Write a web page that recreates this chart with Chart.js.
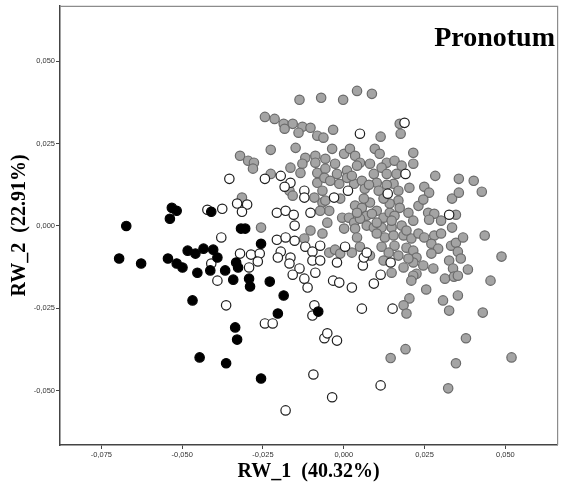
<!DOCTYPE html>
<html>
<head>
<meta charset="utf-8">
<script src="https://cdn.jsdelivr.net/npm/chart.js@4.4.1/dist/chart.umd.min.js"></script>
<style>
  html, body { margin: 0; padding: 0; background: #fff; }
  canvas { display: block; }
</style>
</head>
<body>
<canvas id="c" width="563" height="495"></canvas>
<script>
// RW_1 x RW_2 scatter, pronotum shape

const TITLE = 'Pronotum';
const X_TITLE = 'RW_1  (40.32%)';
const Y_TITLE = 'RW_2  (22.91%)';
const X_RANGE = [-0.0878, 0.066];
const Y_RANGE = [-0.0665, 0.0668];
const TICK_STEP = 0.025;

// black group
const blackPts = [
  [-0.0673, 0.0000], [-0.0532, 0.0055], [-0.0517, 0.0046], [-0.0538, 0.0022], [-0.0410, 0.0043],
  [-0.0318, -0.0008], [-0.0305, -0.0008], [-0.0256, -0.0054], [-0.0695, -0.0099], [-0.0627, -0.0114],
  [-0.0544, -0.0099], [-0.0517, -0.0114], [-0.0499, -0.0126], [-0.0483, -0.0075], [-0.0459, -0.0084],
  [-0.0434, -0.0069], [-0.0404, -0.0072], [-0.0391, -0.0096], [-0.0453, -0.0142], [-0.0413, -0.0135],
  [-0.0367, -0.0135], [-0.0333, -0.0111], [-0.0327, -0.0126], [-0.0342, -0.0163], [-0.0293, -0.0160],
  [-0.0290, -0.0184], [-0.0229, -0.0169], [-0.0468, -0.0226], [-0.0336, -0.0308], [-0.0330, -0.0345],
  [-0.0446, -0.0399], [-0.0364, -0.0417], [-0.0256, -0.0463], [-0.0186, -0.0211], [-0.0204, -0.0266],
  [-0.0079, -0.0260],
];

// white group
const whitePts = [
  [-0.0354, 0.0143], [-0.0244, 0.0143], [-0.0422, 0.0049], [-0.0376, 0.0052], [-0.0330, 0.0068],
  [-0.0299, 0.0065], [-0.0315, 0.0043], [-0.0379, -0.0035], [-0.0207, 0.0040], [-0.0207, -0.0042],
  [-0.0321, -0.0084], [-0.0287, -0.0087], [-0.0260, -0.0084], [-0.0266, -0.0108], [-0.0293, -0.0126],
  [-0.0195, 0.0152], [-0.0165, 0.0131], [-0.0183, 0.0119], [-0.0122, 0.0107], [-0.0122, 0.0086],
  [-0.0103, 0.0040], [-0.0180, 0.0046], [-0.0155, 0.0034], [-0.0152, 0.0001], [-0.0180, -0.0035],
  [-0.0152, -0.0045], [-0.0195, -0.0078], [-0.0119, -0.0063], [-0.0097, -0.0078], [-0.0073, -0.0060],
  [-0.0165, -0.0096], [-0.0168, -0.0114], [-0.0137, -0.0129], [-0.0097, -0.0105], [-0.0073, -0.0105],
  [-0.0088, -0.0142], [-0.0122, -0.0160], [-0.0112, -0.0187], [-0.0364, -0.0241], [-0.0244, -0.0296],
  [-0.0220, -0.0296], [-0.0091, -0.0241], [-0.0097, -0.0272], [-0.0060, -0.0341], [-0.0410, -0.0114],
  [-0.0391, -0.0166], [-0.0158, -0.0148], [-0.0021, -0.0111], [-0.0033, -0.0166], [-0.0014, -0.0172],
  [0.0025, -0.0187], [0.0059, -0.0120], [0.0062, -0.0096], [0.0093, -0.0175], [0.0114, -0.0148],
  [0.0145, -0.0111], [-0.0051, -0.0326], [-0.0021, -0.0348], [0.0056, -0.0251], [0.0151, -0.0251],
  [-0.0094, -0.0451], [-0.0036, -0.0520], [0.0114, -0.0484], [-0.0180, -0.0560], [-0.0204, -0.0096],
  [0.0004, -0.0063], [0.0071, -0.0081], [0.0188, 0.0313], [0.0050, 0.0280], [0.0191, 0.0158],
  [-0.0030, 0.0086], [0.0013, 0.0107], [0.0136, 0.0098], [0.0326, 0.0034],
];

// grey group
const greyPts = [
  [-0.0137, 0.0383], [-0.0070, 0.0389], [-0.0002, 0.0383], [0.0041, 0.0410], [0.0087, 0.0401],
  [-0.0244, 0.0331], [-0.0214, 0.0325], [-0.0186, 0.0310], [-0.0158, 0.0310], [-0.0183, 0.0295],
  [-0.0128, 0.0301], [-0.0103, 0.0298], [-0.0140, 0.0283], [-0.0082, 0.0274], [-0.0063, 0.0268],
  [-0.0033, 0.0292], [0.0173, 0.0310], [0.0176, 0.0280], [0.0114, 0.0271], [-0.0226, 0.0231],
  [-0.0321, 0.0213], [-0.0296, 0.0198], [-0.0278, 0.0192], [-0.0281, 0.0174], [-0.0226, 0.0158],
  [-0.0315, 0.0086], [-0.0256, -0.0005], [-0.0149, 0.0237], [-0.0036, 0.0234], [0.0001, 0.0219],
  [0.0019, 0.0234], [0.0096, 0.0234], [0.0111, 0.0219], [0.0215, 0.0222], [-0.0119, 0.0207],
  [-0.0088, 0.0213], [-0.0057, 0.0204], [-0.0027, 0.0189], [0.0035, 0.0213], [0.0050, 0.0192],
  [0.0133, 0.0192], [0.0157, 0.0198], [-0.0165, 0.0177], [-0.0134, 0.0161], [-0.0082, 0.0161],
  [-0.0057, 0.0174], [-0.0021, 0.0158], [0.0010, 0.0168], [0.0041, 0.0183], [0.0081, 0.0189],
  [0.0093, 0.0158], [0.0117, 0.0177], [0.0133, 0.0158], [0.0179, 0.0183], [0.0215, 0.0189],
  [-0.0168, 0.0107], [-0.0082, 0.0131], [-0.0066, 0.0107], [-0.0014, 0.0128], [0.0032, 0.0128],
  [0.0056, 0.0137], [0.0065, 0.0113], [0.0102, 0.0131], [0.0108, 0.0107], [0.0154, 0.0128],
  [0.0169, 0.0107], [0.0203, 0.0116], [0.0169, 0.0077], [-0.0066, 0.0071], [0.0035, 0.0062],
  [0.0056, 0.0055], [0.0081, 0.0071], [-0.0045, 0.0046], [-0.0005, 0.0025], [0.0016, 0.0025],
  [0.0032, 0.0010], [0.0071, 0.0031], [0.0102, 0.0046], [0.0123, 0.0025], [0.0142, 0.0040],
  [0.0173, 0.0055], [0.0200, 0.0040], [0.0215, 0.0016], [-0.0051, 0.0010], [0.0035, -0.0008],
  [0.0071, 0.0001], [0.0093, -0.0005], [0.0117, -0.0005], [0.0148, -0.0005], [0.0179, 0.0001],
  [0.0127, -0.0035], [0.0154, -0.0029], [0.0185, -0.0029], [0.0209, -0.0038], [0.0041, -0.0035],
  [0.0117, -0.0063], [0.0157, -0.0060], [0.0194, -0.0066], [0.0215, -0.0075], [-0.0045, -0.0081],
  [-0.0027, -0.0072], [0.0025, -0.0081], [0.0169, -0.0090], [-0.0158, 0.0092], [-0.0088, 0.0192],
  [-0.0060, 0.0146], [-0.0057, 0.0077], [-0.0128, 0.0189], [-0.0042, 0.0137], [0.0010, 0.0146],
  [0.0078, 0.0125], [0.0062, 0.0083], [0.0142, 0.0068], [0.0231, 0.0061], [-0.0073, 0.0046],
  [0.0087, 0.0037], [0.0157, 0.0031], [-0.0091, 0.0086], [-0.0011, 0.0083], [0.0123, 0.0083],
  [0.0050, 0.0022], [0.0102, 0.0010], [0.0148, 0.0016], [-0.0103, -0.0014], [0.0001, -0.0008],
  [0.0231, -0.0023], [-0.0066, -0.0023], [-0.0122, -0.0038], [0.0163, 0.0158], [0.0025, 0.0152],
  [0.0283, 0.0152], [0.0356, 0.0143], [0.0402, 0.0137], [0.0427, 0.0104], [0.0249, 0.0119],
  [0.0264, 0.0101], [0.0246, 0.0080], [0.0335, 0.0083], [0.0356, 0.0101], [0.0261, 0.0040],
  [0.0280, 0.0037], [0.0301, 0.0016], [0.0264, 0.0019], [0.0347, 0.0034], [0.0335, -0.0005],
  [0.0249, -0.0035], [0.0280, -0.0029], [0.0271, -0.0054], [0.0292, -0.0069], [0.0271, -0.0084],
  [0.0332, -0.0060], [0.0347, -0.0051], [0.0353, -0.0078], [0.0362, -0.0099], [0.0326, -0.0105],
  [0.0338, -0.0129], [0.0384, -0.0132], [0.0436, -0.0029], [0.0488, -0.0093], [0.0454, -0.0166],
  [0.0246, -0.0120], [0.0225, -0.0096], [0.0225, -0.0145], [0.0313, -0.0160], [0.0341, -0.0154],
  [0.0369, -0.0035], [0.0301, -0.0023], [-0.0011, -0.0084], [0.0050, -0.0063], [0.0081, -0.0090],
  [0.0277, -0.0129], [0.0148, -0.0142], [0.0185, -0.0126], [0.0215, -0.0111], [0.0353, -0.0151],
  [0.0215, -0.0151], [0.0209, -0.0166], [0.0255, -0.0193], [0.0307, -0.0226], [0.0353, -0.0211],
  [0.0203, -0.0220], [0.0185, -0.0241], [0.0194, -0.0266], [0.0326, -0.0257], [0.0519, -0.0399],
  [0.0430, -0.0263], [0.0378, -0.0341], [0.0191, -0.0374], [0.0145, -0.0401], [0.0347, -0.0417],
  [0.0323, -0.0493], [0.0041, 0.0040], [0.0194, -0.0014], [0.0102, -0.0023], [0.0139, -0.0081],
  [0.0200, -0.0099], [0.0123, -0.0105], [0.0133, 0.0125],
];

const toXY = (pts) => pts.map(([x, y]) => ({ x, y }));
const fmtTick = (v) => (Math.abs(v) < 1e-9 ? '0,000' : v.toFixed(3).replace('.', ','));

// top/right frame + panel title
const framePlugin = {
  id: 'frame',
  afterDraw(chart) {
    const { ctx, chartArea: a } = chart;
    ctx.save();
    ctx.strokeStyle = '#8c8c8c';
    ctx.lineWidth = 1.2;
    ctx.beginPath();
    ctx.moveTo(a.left, a.top + 0.5);
    ctx.lineTo(a.right + 0.5, a.top + 0.5);
    ctx.lineTo(a.right + 0.5, a.bottom);
    ctx.stroke();
    ctx.fillStyle = '#000';
    ctx.font = 'bold 28px "Liberation Serif", "Times New Roman", serif';
    ctx.textAlign = 'right';
    ctx.textBaseline = 'alphabetic';
    ctx.fillText(TITLE, 555, 46);
    ctx.restore();
  },
};

const pointStyle = (bg, border) => ({
  backgroundColor: bg,
  borderColor: border,
  pointRadius: 4.7,
  pointBorderWidth: 1.2,
  pointHoverRadius: 4.7,
});

const axisTitle = (text, pad) => ({
  display: true,
  text,
  color: '#000',
  font: { family: '"Liberation Serif", "Times New Roman", serif', size: 20, weight: 'bold' },
  padding: pad,
});

const tickOpts = {
  stepSize: TICK_STEP,
  includeBounds: false,
  autoSkip: false,
  maxRotation: 0,
  padding: 1,
  color: '#333',
  font: { family: '"Liberation Sans", Arial, sans-serif', size: 7.5 },
  callback: fmtTick,
};

new Chart(document.getElementById('c'), {
  type: 'scatter',
  data: {
    datasets: [
      { label: 'black', data: toXY(blackPts), ...pointStyle('#000000', '#000000') },
      { label: 'white', data: toXY(whitePts), ...pointStyle('#ffffff', '#1e1e1e') },
      { label: 'grey', data: toXY(greyPts), ...pointStyle('#a4a4a4', '#6a6a6a') },
    ],
  },
  options: {
    responsive: false,
    animation: false,
    events: [],
    layout: { padding: { top: 5, right: 1, left: 0, bottom: 0 } },
    plugins: { legend: { display: false }, tooltip: { enabled: false } },
    scales: {
      x: {
        type: 'linear',
        min: X_RANGE[0],
        max: X_RANGE[1],
        ticks: tickOpts,
        grid: { drawOnChartArea: false, drawTicks: true, tickLength: 4, color: '#444' },
        border: { display: true, color: '#444', width: 1.5 },
        title: axisTitle(X_TITLE, { top: 0, bottom: 11 }),
        afterFit: (s) => { s.height = 50; },
      },
      y: {
        type: 'linear',
        min: Y_RANGE[0],
        max: Y_RANGE[1],
        ticks: tickOpts,
        grid: { drawOnChartArea: false, drawTicks: true, tickLength: 4, color: '#444' },
        border: { display: true, color: '#444', width: 1.5 },
        title: axisTitle(Y_TITLE, { top: 8, bottom: 0 }),
        afterFit: (s) => { s.width = 60; },
      },
    },
  },
  plugins: [framePlugin],
});
</script>
</body>
</html>
